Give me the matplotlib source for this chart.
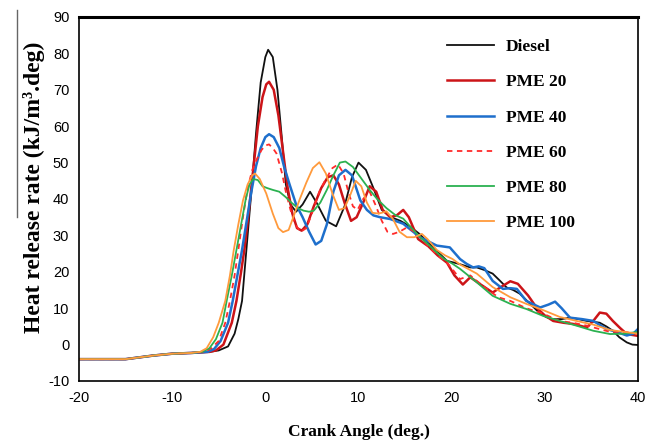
import matplotlib.pyplot as plt
from matplotlib.lines import Line2D

plt.rcParams['axes.unicode_minus'] = False

# data (crank angle in deg, HRR in kJ/m3.deg)
diesel_x = [-20, -15, -12, -10, -8, -6, -5, -4, -3.3, -2.9, -2.5, -2, -1.5, -1, -0.5, 0, 0.3,
            0.8, 1.3, 1.8, 2.2, 2.7, 3.3, 4, 4.8, 5.5, 6.5, 7.6, 8.5, 9.3, 10, 10.8, 11.6,
            12.5, 13.5, 14.5, 15.5, 16.5, 17.5, 18.5, 19.5, 20.3, 21, 22, 22.7, 23.5, 24.4,
            25.2, 25.9, 26.6, 27.3, 28.5, 29.5, 30.2, 30.9, 31.8, 32.7, 33.6, 34.5, 35.2,
            35.9, 36.6, 37.3, 38, 38.8, 39.4, 40]
diesel_y = [-4, -4, -3, -2.5, -2.3, -2, -1.6, -0.5, 3, 7, 12, 27, 42, 58, 72, 79, 81,
            79, 70, 56, 44, 38.5, 36.5, 38.5, 42, 39, 34, 32.5, 38, 46, 50, 48, 43,
            37, 35, 34, 32.5, 30.5, 28, 25.5, 23, 22.5, 22, 21.2, 21.2, 20.5, 19.5,
            17.5, 15.7, 15, 14, 11, 8.5, 7.5, 7, 7, 7.4, 7, 6.5, 6.3,
            6, 5, 3.8, 2, 0.6, 0, -0.1]

pme20_x = [-20, -15, -12, -10, -8, -6, -5.3, -4.5, -3.6, -3.1, -2.6, -2.2, -1.8, -1.3, -0.8,
           -0.3, 0.1, 0.4, 0.9, 1.4, 1.9, 2.4, 2.9, 3.4, 3.9, 4.5, 5.2, 6, 6.7, 7.3, 7.9,
           8.5, 9.2, 9.8, 10.5, 11.2, 11.9, 12.6, 13.4, 14.1, 14.8, 15.4, 16.4, 17.5, 18.5,
           19.5, 20.3, 21.2, 22, 23, 24.4, 25.4, 26.3, 27.1, 28.2, 29.1, 30, 30.9, 32, 33,
           34.5, 35.2, 35.9, 36.6, 37.3, 38.1, 38.8, 40]
pme20_y = [-4, -4, -3, -2.5, -2.3, -2, -1.6, 0, 6, 12, 20, 27, 36, 48, 60,
           68, 71.5, 72.2, 70, 63, 53, 43, 36, 32, 31.3, 33, 38, 43, 46, 46.5, 44,
           39, 34, 35, 39, 43.5, 42, 37, 35, 35.5, 37, 35, 29, 27, 24.5,
           22.5, 19, 16.5, 18.5, 16.7, 14.3, 16, 17.4, 16.7, 13.5, 10.2, 8, 6.5, 6, 5.7,
           4.7, 6.5, 8.8, 8.5, 6.5, 4.5, 2.9, 2.4]

pme40_x = [-20, -15, -12, -10, -8, -6.2, -5.5, -4.8, -4, -3.5, -3, -2.5, -2, -1.5, -1, -0.5,
           0, 0.4, 0.9, 1.5, 2, 2.6, 3.3, 4, 4.7, 5.4, 6, 6.6, 7.3, 7.9, 8.6, 9.3, 10.2,
           10.9, 11.6, 12.3, 13.4, 14.8, 16.6, 18.4, 19.8, 20.9, 21.6, 22.3, 22.9, 23.5,
           24.4, 25.5, 26.3, 27, 28, 29.5, 30.4, 31.1, 31.8, 32.7, 34, 35.2, 36.6, 37.7,
           38.8, 39.5, 40]
pme40_y = [-4, -4, -3, -2.5, -2.3, -2, -1.2, 1, 6, 12, 19, 26, 34, 42, 49, 54,
           57, 57.8, 57, 54, 49, 44, 38.5, 35, 31, 27.5, 28.5, 33, 42, 46.5, 48, 46.5, 39.6,
           37, 35.5, 35, 34.5, 33.2, 29.5, 27.2, 26.7, 23.5, 22.2, 21.2, 21.5, 21,
           17.5, 15.3, 15.5, 15.3, 12, 10.2, 11, 11.8, 10, 7.4, 7, 6.5, 4.3, 3.5,
           2.5, 3, 4.3]

pme60_x = [-20, -15, -12, -10, -8, -6.5, -5.8, -5, -4.3, -3.8, -3.3, -2.9, -2.4, -1.9, -1.4,
           -0.9, -0.4, 0, 0.4, 0.8, 1.2, 1.8, 2.2, 2.7, 3.2, 3.8, 4.4, 5, 5.8, 6.5, 7.2,
           7.8, 8.4, 8.9, 9.4, 9.9, 10.5, 11.2, 11.8, 12.5, 13.1, 13.7, 14.4, 15.2, 16,
           16.6, 17.5, 18.5, 19.5, 20.3, 20.9, 22, 23.4, 25, 26.3, 28, 29.8, 31.6, 33,
           34.5, 37, 38.5, 40]
pme60_y = [-4, -4, -3, -2.5, -2.3, -2, -1, 1, 6, 12, 19, 26, 35, 43, 48,
           51, 53.5, 54.7, 55, 54, 52.5, 47, 42, 37, 33, 31, 32, 36, 42, 45.5, 48.5,
           49.5, 47, 42, 38, 37, 40, 42, 38.5, 34, 31, 30.4, 31, 32.2, 31,
           29.5, 27, 24.5, 22.5, 20, 18, 19, 16, 13, 12, 10, 8.5, 6.5, 6,
           5.2, 3.5, 3.5, 3]

pme80_x = [-20, -15, -12, -10, -8, -6.8, -6, -5.3, -4.6, -4.15, -3.6, -3.1, -2.6, -2.1, -1.7,
           -1.3, -0.8, -0.3, 0.2, 0.8, 1.5, 2.2, 2.8, 3.5, 4.1, 4.7, 5.2, 5.9, 6.6, 7.3, 8,
           8.6, 9.4, 10.2, 11.2, 12, 13, 14, 14.8, 15.7, 16.6, 17.5, 18.4, 19.2, 20.1, 20.9,
           22.7, 24.4, 26.3, 28, 29.8, 31.6, 33.4, 35.2, 37, 38.5, 40]
pme80_y = [-4, -4, -3, -2.5, -2.3, -2, -1, 1.5, 6, 12, 19, 26, 33, 40, 44,
           45.5, 45.2, 43.5, 43, 42.5, 42, 40.5, 39, 37.5, 36.8, 36.5, 36.8, 39, 42.5, 46.5, 50,
           50.3, 48.8, 46, 42.5, 40, 37.5, 35.5, 34.6, 32, 29.5, 27.5, 25.3, 23.5, 22.2, 20.8,
           17.1, 13.4, 11.2, 9.8, 7.9, 6.5, 5.2, 3.8, 2.9, 3, 3.5]

pme100_x = [-20, -15, -12, -10, -8, -7, -6.3, -5.6, -5, -4.3, -3.8, -3.4, -2.9, -2.4, -1.9,
            -1.4, -1.1, -0.6, 0.1, 0.8, 1.4, 1.9, 2.5, 3, 3.7, 4.4, 5.1, 5.8, 6.5, 7.2, 7.9,
            8.5, 9.1, 9.7, 10.3, 10.9, 11.5, 12.2, 13, 13.7, 14.4, 15.2, 16, 16.8, 17.4, 18.4,
            19.3, 20.1, 20.9, 22.7, 24.4, 26.3, 28, 29.8, 31.6, 33.4, 35.2, 37, 38.5, 40]
pme100_y = [-4, -4, -3, -2.5, -2.3, -2, -1, 2, 6, 12, 19, 25.8, 33, 39.6, 44,
            46.5, 47, 45.5, 41.5, 36, 32, 30.9, 31.5, 35, 40, 44.5, 48.5, 50.1, 47, 41.5, 37,
            37.5, 41, 45, 43.5, 39, 36.2, 36, 36.6, 34.5, 31, 29.5, 29.5, 30.4, 29, 26,
            24.5, 23.5, 22, 19.5, 15.8, 13, 11.2, 9.5, 7.6, 6.5, 5.5, 4, 3.5, 3]

fuels = ["Diesel", "PME 20", "PME 40", "PME 60", "PME 80", "PME 100"]
x_ticks = [-20, -10, 0, 10, 20, 30, 40]
y_ticks = [-10, 0, 10, 20, 30, 40, 50, 60, 70, 80, 90]

series = [(diesel_x, diesel_y), (pme20_x, pme20_y), (pme40_x, pme40_y),
          (pme60_x, pme60_y), (pme80_x, pme80_y), (pme100_x, pme100_y)]
colores = ["#111111", "#cc1418", "#1e6fcc", "#ff2a2a", "#2bb150", "#ff9a3c"]
estilos = ["-", "-", "-", (0, (3, 2.5)), "-", "-"]
anchos = [1.3, 1.8, 1.8, 1.3, 1.3, 1.3]

fig = plt.figure(figsize=(6.6, 4.41), dpi=100)
ax = fig.add_axes([79 / 660, 1 - 381 / 441, (638 - 79) / 660, (381 - 17) / 441])

for (xs, ys), nombre, c, ls, lw in zip(series, fuels, colores, estilos, anchos):
    ax.plot(xs, ys, color=c, linestyle=ls, linewidth=lw, label=nombre)

ax.set_xlim(-20, 40)
ax.set_ylim(-10, 90)
ax.set_xticks(x_ticks)
ax.set_yticks(y_ticks)
ax.tick_params(length=0, labelsize=10.5, pad=7)
for lab in ax.get_xticklabels() + ax.get_yticklabels():
    lab.set_family("Liberation Sans")

for s in ax.spines.values():
    s.set_linewidth(1.2)
ax.spines["top"].set_linewidth(2.2)

ax.set_xlabel("Crank Angle (deg.)", family="Liberation Serif", weight="bold",
              fontsize=12.5, labelpad=14)
fig.text(34 / 660, 1 - 187 / 441, "Heat release rate (kJ/m³.deg)", rotation=90,
         family="Liberation Serif", weight="bold", fontsize=17, ha="center", va="center")

# linea gris suelta a la izquierda
fig.add_artist(Line2D([17 / 660, 17 / 660], [1 - 10 / 441, 1 - 217 / 441],
                      color="#666666", linewidth=1))

leg = ax.legend(loc="upper left", bbox_to_anchor=(447 / 660, 1 - 39 / 441),
                bbox_transform=fig.transFigure, frameon=False, borderpad=0,
                borderaxespad=0, handlelength=2.7, handletextpad=0.7, labelspacing=1.1,
                prop={"family": "Liberation Serif", "weight": "bold", "size": 12.5})

plt.savefig("out.png", dpi=100)
